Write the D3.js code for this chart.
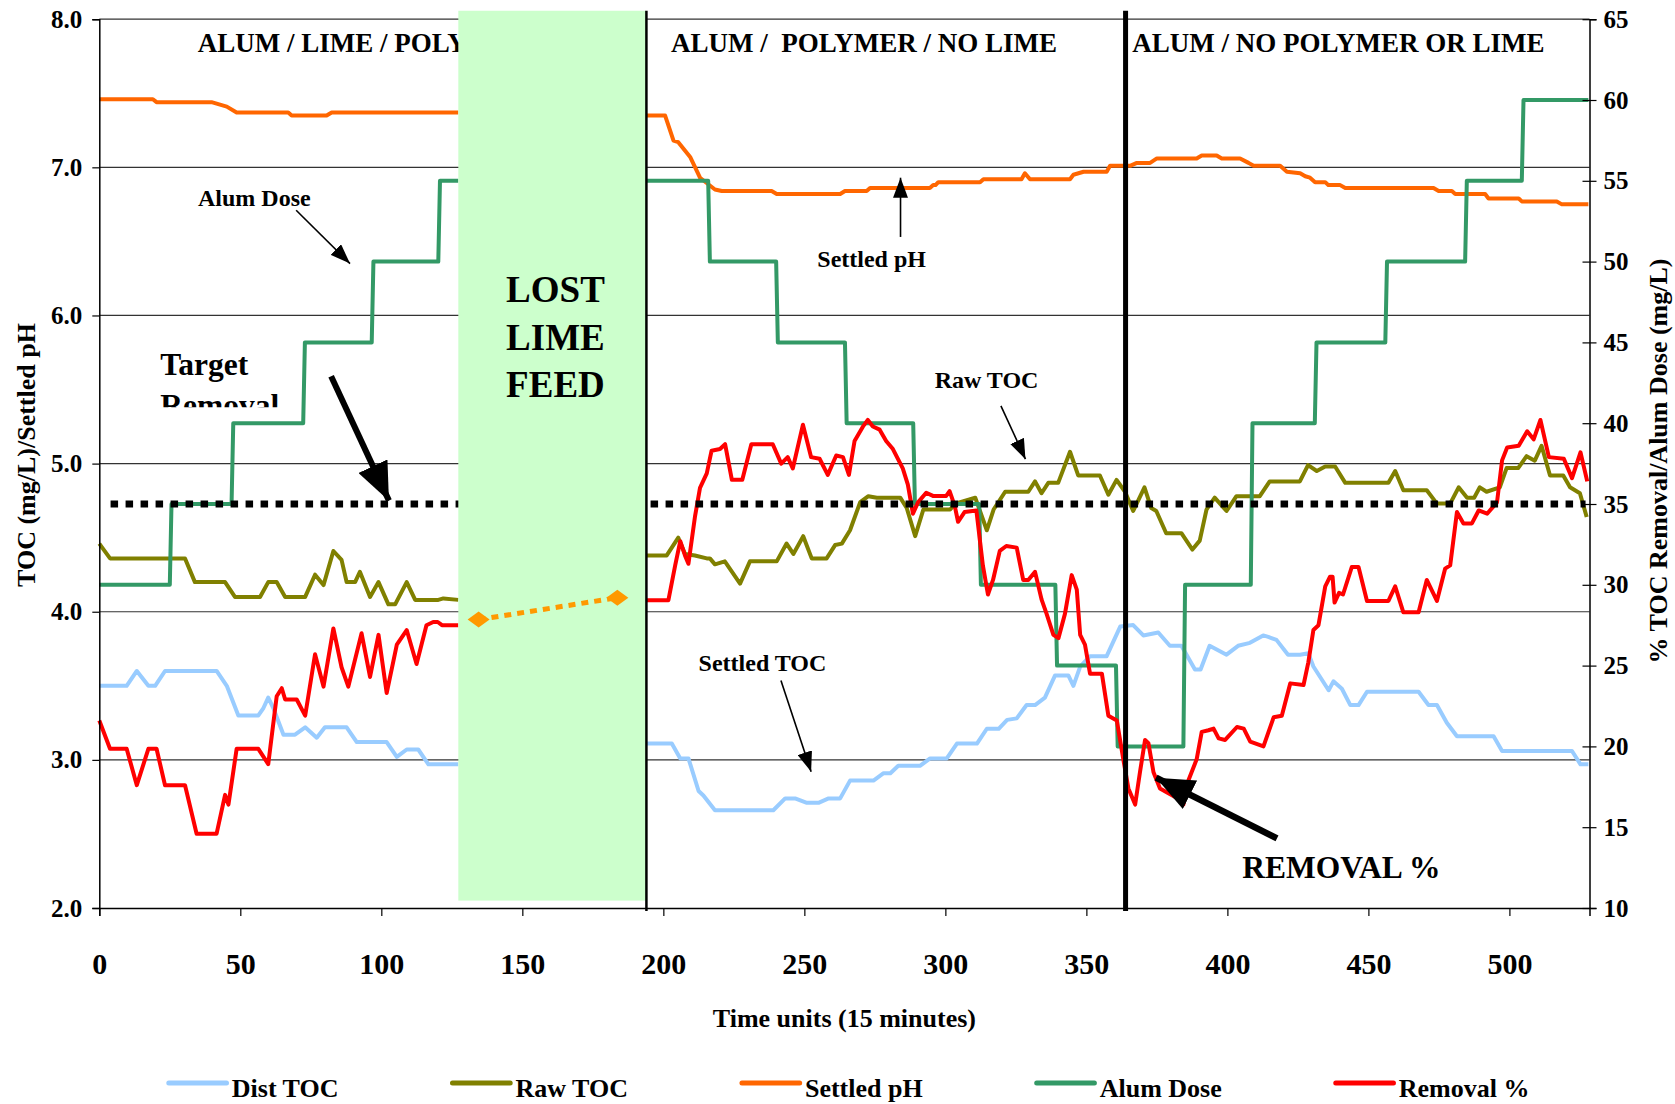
<!DOCTYPE html>
<html>
<head>
<meta charset="utf-8">
<script src="https://cdn.jsdelivr.net/npm/d3@7/dist/d3.min.js"></script>
<style>
  body { margin: 0; background: #fff; }
  svg text { font-family: "Liberation Serif", "Times New Roman", serif; font-weight: bold; fill: #000; }
</style>
</head>
<body>
<div id="chart"></div>
<script>
  // time units (15 min) vs value; null marks the lost-lime-feed gap
  const distTOC = [[0,3.50],[9.7,3.50],[13.3,3.60],[17.4,3.50],[19.8,3.50],[23.3,3.60],[41.6,3.60],[45.2,3.50],[49.3,3.30],[56.4,3.30],[58.2,3.35],[59.9,3.42],[61.7,3.35],[65.3,3.17],[69.4,3.17],[73,3.22],[77.1,3.15],[80,3.22],[87.7,3.22],[91.3,3.12],[101.9,3.12],[105.5,3.02],[109,3.07],[113.1,3.07],[116.7,2.97],[127.3,2.97], null,
    [194,3.11],[203,3.11],[206,3.01],[208.9,3.01],[212.5,2.79],[214.2,2.76],[218.3,2.66],[239,2.66],[243.2,2.74],[246.7,2.74],[250.9,2.71],[255,2.71],[258.6,2.74],[262.7,2.74],[266.2,2.86],[274.5,2.86],[278.1,2.91],[280.5,2.91],[283.3,2.96],[291,2.96],[294.6,3.01],[300.5,3.01],[304.1,3.11],[311.2,3.11],[314.7,3.21],[318.9,3.21],[321.9,3.27],[325.3,3.28],[328.8,3.37],[331.8,3.37],[335.3,3.42],[338.9,3.57],[343.6,3.57],[345.4,3.50],[347.8,3.63],[351.3,3.70],[357.2,3.70],[362,3.90],[366.6,3.91],[370.2,3.84],[375.5,3.86],[379.6,3.77],[383.7,3.77],[388.5,3.61],[390.5,3.61],[393.7,3.77],[399.7,3.71],[403.8,3.77],[408,3.79],[412.7,3.84],[414.5,3.83],[417.4,3.81],[421.5,3.71],[425.8,3.71],[428.7,3.72],[430.5,3.63],[435.9,3.47],[437.6,3.53],[440.6,3.48],[443.6,3.37],[446.5,3.37],[449.5,3.46],[467.8,3.46],[471.3,3.37],[474.3,3.37],[477.8,3.25],[481.4,3.16],[494.4,3.16],[497.4,3.06],[522.2,3.06],[525.2,2.97],[528,2.97]];

  const rawTOC = [[0,4.46],[3.8,4.36],[30.4,4.36],[33.9,4.20],[44.6,4.20],[48.1,4.10],[57,4.10],[59.9,4.20],[62.9,4.20],[65.9,4.10],[73,4.10],[76.5,4.25],[79.5,4.18],[83,4.41],[85.9,4.35],[87.7,4.20],[90.7,4.20],[92.4,4.27],[96,4.10],[99,4.20],[102.5,4.05],[104.9,4.05],[109,4.20],[112,4.08],[120.2,4.08],[122,4.09],[127.3,4.08], null,
    [194,4.38],[201.2,4.38],[205.3,4.50],[207.7,4.39],[211.2,4.38],[215.4,4.36],[216.5,4.36],[218.3,4.32],[221.8,4.34],[227.2,4.19],[230.7,4.34],[240.2,4.34],[243.7,4.46],[246.1,4.39],[249.6,4.51],[252.6,4.36],[257.9,4.36],[260.9,4.45],[263.3,4.46],[266.2,4.55],[269.8,4.74],[272.7,4.78],[275.7,4.77],[284,4.77],[286.3,4.70],[289.3,4.51],[292.2,4.69],[301.7,4.69],[303.5,4.73],[310.6,4.77],[314.7,4.55],[317.1,4.69],[321.2,4.81],[329.4,4.81],[331.8,4.88],[334.1,4.80],[336.5,4.87],[340,4.87],[344.2,5.08],[347.1,4.92],[354.8,4.92],[357.8,4.79],[360.7,4.89],[363.7,4.81],[366.6,4.68],[370.6,4.84],[373,4.70],[374.8,4.68],[378.3,4.53],[383.7,4.53],[387.6,4.42],[390.2,4.48],[392.6,4.69],[395.5,4.77],[399.7,4.68],[403.2,4.78],[411.5,4.78],[415,4.88],[425.7,4.88],[428.6,4.99],[431.7,4.95],[434.7,4.98],[438.2,4.98],[441.8,4.87],[457.1,4.87],[459.5,4.95],[462.4,4.82],[470.7,4.82],[474.3,4.73],[479,4.73],[482,4.84],[485,4.77],[487.5,4.77],[489.5,4.84],[491.9,4.81],[496.6,4.84],[499,4.97],[503.1,4.97],[506.1,5.05],[509,5.02],[511.4,5.12],[514.4,4.92],[519.1,4.92],[521.5,4.84],[525,4.80],[527.4,4.64]];

  const settledPH = [[0,7.46],[19,7.46],[20.3,7.44],[39.8,7.44],[41.6,7.43],[45.2,7.41],[48.7,7.37],[67,7.37],[68.2,7.35],[80.6,7.35],[82.4,7.37],[127.3,7.37], null,
    [194,7.35],[200.6,7.35],[203.6,7.18],[205.3,7.17],[209.5,7.07],[213,6.93],[218.3,6.85],[220.7,6.84],[238.4,6.84],[240.2,6.82],[262.7,6.82],[264.4,6.84],[272.1,6.84],[273.3,6.86],[294.5,6.86],[295.7,6.88],[296.5,6.88],[297.5,6.90],[312.3,6.90],[313.5,6.92],[327,6.92],[328.2,6.96],[330,6.92],[344.2,6.92],[345.4,6.95],[349,6.97],[357.2,6.97],[358.4,7.01],[365.5,7.01],[367.9,7.03],[372.6,7.03],[375,7.06],[389.1,7.06],[390.9,7.08],[396.2,7.08],[398,7.06],[404.5,7.06],[407.5,7.03],[409.3,7.01],[418.7,7.01],[421.1,6.97],[425.8,6.96],[427.6,6.94],[429.3,6.93],[431.1,6.90],[434.7,6.90],[435.8,6.88],[440,6.88],[441.8,6.86],[473.1,6.86],[474.9,6.84],[479.6,6.84],[480.8,6.82],[491.4,6.82],[492.6,6.79],[503.3,6.79],[504.4,6.77],[516.8,6.77],[518.6,6.75],[528,6.75]];

  // right axis (mg/L)
  const alumDose = [[0,30],[25,30],[25.6,35],[46.9,35],[47.5,40],[72.3,40],[72.9,45],[96.6,45],[97.2,50],[120.2,50],[120.8,55],[127.3,55], null,
    [194,55],[215.9,55],[216.5,50],[240,50],[240.6,45],[264.4,45],[265,40],[288.6,40],[289.2,35],[312,35],[312.6,30],[339,30],[339.6,25],[360.5,25],[361.1,20],[384.4,20],[385,30],[408.3,30],[408.9,40],[431,40],[431.6,45],[456,45],[456.6,50],[484.3,50],[484.9,55],[504.4,55],[505,60],[528,60]];

  // right axis (%)
  const removal = [[0,21.6],[3.8,19.85],[9.7,19.85],[13.3,17.6],[17.4,19.85],[20.3,19.85],[23.3,17.6],[30.4,17.6],[34.5,14.6],[41.6,14.6],[44.6,17.0],[45.8,16.4],[48.7,19.85],[56.4,19.85],[59.9,18.9],[62.9,23.1],[64.7,23.6],[65.9,22.9],[70,22.9],[73,21.9],[76.5,25.7],[79.5,23.7],[83,27.3],[85.9,24.9],[88.3,23.7],[93,27.0],[96,24.3],[99,26.9],[101.9,23.3],[105.5,26.3],[109,27.2],[112.5,25.1],[116,27.5],[118.4,27.7],[120,27.7],[121.5,27.5],[127.3,27.5], null,
    [194,29.05],[201.8,29.05],[204.2,31.2],[206,32.7],[207.7,31.8],[208.9,31.3],[211.2,34.2],[213,36.0],[215.4,36.9],[217.1,38.3],[220.1,38.4],[221.9,38.7],[224.3,36.5],[228,36.5],[231.2,38.7],[238.8,38.7],[241.8,37.5],[244.1,37.9],[245.9,37.2],[249.5,39.9],[252.4,37.9],[255.4,37.8],[258.3,36.8],[261.3,38.0],[263.7,37.9],[265.8,36.8],[267.8,38.9],[270.8,39.8],[272.5,40.2],[274.3,39.8],[276.7,39.6],[279,38.9],[281.4,38.4],[284.9,37.2],[286.7,36.2],[288.5,34.4],[290.3,35.1],[293.2,35.7],[295.6,35.5],[300.3,35.5],[301.5,35.8],[303.3,34.9],[304.5,33.9],[306.8,34.5],[311,34.6],[313.3,31.2],[315.1,29.4],[316.9,30.3],[319.3,32.1],[321.6,32.4],[325.3,32.3],[327.6,30.3],[329.4,30.3],[331.8,30.8],[334.1,29.1],[335.9,28.2],[338.3,26.9],[340.1,26.7],[342.4,28.2],[344.8,30.6],[346.6,29.7],[347.8,26.9],[349.5,26.3],[351.3,24.5],[355.5,24.5],[357.8,21.9],[360.8,21.6],[363.1,19.2],[364.9,17.4],[367.3,16.4],[369,18.4],[370.8,20.4],[372,20.2],[373.8,18.4],[376.1,17.4],[379.1,17.1],[382.1,16.8],[384.4,16.4],[386.2,17.9],[389.1,19.2],[390.9,20.9],[393.3,21.0],[395.1,21.1],[396.9,20.5],[399.2,20.4],[403.4,21.2],[405.8,21.1],[408.1,20.3],[412.8,20.0],[416.4,21.8],[419.3,21.9],[422.3,23.9],[427,23.8],[428.7,25.2],[430.5,27.2],[432.3,27.5],[434.7,29.9],[436.4,30.5],[437.3,30.5],[438,28.9],[439.6,29.5],[441,29.4],[444.1,31.1],[446.5,31.1],[449.5,29.0],[457.1,29.0],[459.5,29.9],[462.4,28.3],[467.8,28.3],[470.7,30.3],[474.3,29.0],[477.2,31.0],[479,31.2],[481.4,34.5],[483.7,33.8],[486.7,33.8],[489.1,34.6],[492.1,34.4],[495.6,35.1],[497.4,37.7],[499.2,38.5],[503.3,38.6],[506.3,39.5],[508.6,39.0],[511,40.2],[514,37.9],[519.3,37.8],[522.2,36.6],[525.2,38.2],[527.6,36.4]];

  const removalBridge = [[134.5,27.85],[183.7,29.2]];
  const targetRemoval = 35;
  const lostFeed = [127.3, 194];
  const phaseBreak = 363.9;

  const phaseLabels = ["ALUM / LIME / POLYMER", "ALUM /  POLYMER / NO LIME", "ALUM / NO POLYMER OR LIME"];
  const phaseStarts = [34.9, 202.7, 366.3];
  const xTicks = d3.range(0, 501, 50);
  const leftTicks = [2, 3, 4, 5, 6, 7, 8];
  const rightTicks = d3.range(10, 66, 5);

  const series = [
    { name: "Dist TOC", data: distTOC, axis: "L", color: "#99CCFF" },
    { name: "Raw TOC", data: rawTOC, axis: "L", color: "#808000" },
    { name: "Settled pH", data: settledPH, axis: "L", color: "#FF6600" },
    { name: "Alum Dose", data: alumDose, axis: "R", color: "#339966" },
    { name: "Removal %", data: removal, axis: "R", color: "#FF0000" }
  ];

  const W = 1675, H = 1104;
  const margin = { top: 19.2, right: 85.5, bottom: 196, left: 99.3 };
  const width = W - margin.left - margin.right;
  const height = H - margin.top - margin.bottom;

  const svg = d3.select("#chart").append("svg")
    .attr("width", W).attr("height", H);

  const g = svg.append("g")
    .attr("transform", "translate(" + margin.left + "," + margin.top + ")");

  const x = d3.scaleLinear().domain([0, 528.4]).range([0, width]);
  const yL = d3.scaleLinear().domain([2, 8]).range([height, 0]);
  const yR = d3.scaleLinear().domain([10, 65]).range([height, 0]);

  // gridlines
  g.selectAll(".grid").data(leftTicks.slice(1)).enter().append("line")
    .attr("x1", 0).attr("x2", width)
    .attr("y1", d => yL(d)).attr("y2", d => yL(d))
    .attr("stroke", "#333").attr("stroke-width", 1.2);

  // zone labels (under the green box)
  g.selectAll(".phase").data(phaseLabels).enter().append("text")
    .attr("x", (d, i) => x(phaseStarts[i]))
    .attr("y", yL(7.78))
    .style("font-size", "27px")
    .style("white-space", "pre")
    .text(d => d);

  // series
  series.forEach(s => {
    const y = s.axis === "L" ? yL : yR;
    const line = d3.line().defined(d => d).x(d => x(d[0])).y(d => y(d[1]));
    g.append("path").datum(s.data)
      .attr("d", line)
      .attr("fill", "none")
      .attr("stroke", s.color)
      .attr("stroke-width", 4)
      .attr("stroke-linejoin", "round");
  });

  // axes
  const xAxis = g.append("g").attr("transform", "translate(0," + height + ")")
    .call(d3.axisBottom(x).tickValues(xTicks).tickSize(8).tickPadding(37).tickFormat(d3.format("d")));
  const lAxis = g.append("g")
    .call(d3.axisLeft(yL).tickValues(leftTicks).tickSize(7).tickPadding(10).tickFormat(d3.format(".1f")));
  const rAxis = g.append("g").attr("transform", "translate(" + width + ",0)")
    .call(d3.axisRight(yR).tickValues(rightTicks).tickSize(7).tickPadding(7));
  rAxis.selectAll(".tick line").attr("x1", -7);
  [xAxis, lAxis, rAxis].forEach(a => {
    a.select(".domain").attr("stroke", "#000").attr("stroke-width", 1.5);
    a.selectAll(".tick line").attr("stroke", "#000").attr("stroke-width", 1.2);
    a.selectAll("text").style("font-size", "25px").attr("fill", "#000");
  });
  xAxis.selectAll("text").style("font-size", "30px");

  // axis titles
  svg.append("text")
    .attr("transform", "translate(35,455) rotate(-90)")
    .attr("text-anchor", "middle").style("font-size", "26px")
    .text("TOC (mg/L)/Settled pH");
  svg.append("text")
    .attr("transform", "translate(1667,461) rotate(-90)")
    .attr("text-anchor", "middle").style("font-size", "26px")
    .text("% TOC Removal/Alum Dose (mg/L)");
  svg.append("text")
    .attr("x", margin.left + width / 2).attr("y", 1027)
    .attr("text-anchor", "middle").style("font-size", "26px")
    .text("Time units (15 minutes)");

  // target removal dotted line
  g.append("line")
    .attr("x1", x(4)).attr("x2", x(527))
    .attr("y1", yR(targetRemoval)).attr("y2", yR(targetRemoval))
    .attr("stroke", "#000").attr("stroke-width", 7)
    .attr("stroke-dasharray", "7.5,7.5");

  // lost lime feed box
  g.append("rect")
    .attr("x", x(lostFeed[0])).attr("width", x(lostFeed[1]) - x(lostFeed[0]))
    .attr("y", yL(8.057)).attr("height", yL(2.05) - yL(8.057))
    .attr("fill", "#CCFFCC");
  ["LOST", "LIME", "FEED"].forEach((w, i) => {
    g.append("text")
      .attr("x", x((lostFeed[0] + lostFeed[1]) / 2 + 1.1)).attr("y", yL([6.09, 5.77, 5.45][i]))
      .attr("text-anchor", "middle").style("font-size", "37px")
      .text(w);
  });

  // removal % bridge across the gap
  g.append("path").datum(removalBridge)
    .attr("d", d3.line().x(d => x(d[0])).y(d => yR(d[1])))
    .attr("fill", "none").attr("stroke", "#FF9900")
    .attr("stroke-width", 5).attr("stroke-dasharray", "7,6");
  g.selectAll(".dia").data(removalBridge).enter().append("path")
    .attr("transform", d => "translate(" + x(d[0]) + "," + yR(d[1]) + ")")
    .attr("d", "M-11,0L0,-8L11,0L0,8Z")
    .attr("fill", "#FF9900");

  // phase separators
  g.append("line")
    .attr("x1", x(lostFeed[1])).attr("x2", x(lostFeed[1]))
    .attr("y1", yL(8.057)).attr("y2", height + 3)
    .attr("stroke", "#000").attr("stroke-width", 2.5);
  g.append("line")
    .attr("x1", x(phaseBreak)).attr("x2", x(phaseBreak))
    .attr("y1", yL(8.057)).attr("y2", height + 3)
    .attr("stroke", "#000").attr("stroke-width", 5);

  // arrow markers
  const defs = svg.append("defs");
  const marker = (id, len, wid) => defs.append("marker")
    .attr("id", id).attr("markerUnits", "userSpaceOnUse")
    .attr("markerWidth", len).attr("markerHeight", wid)
    .attr("refX", len).attr("refY", wid / 2).attr("orient", "auto")
    .append("path").attr("d", "M0,0L" + len + "," + (wid / 2) + "L0," + wid + "Z").attr("fill", "#000");
  marker("thin", 20, 15);
  marker("thick", 38, 32);

  const arrows = [
    { from: [69.8, 6.71], to: [88.9, 6.35], w: 1.6, m: "thin" },
    { from: [284.1, 6.53], to: [284.1, 6.93], w: 1.6, m: "thin" },
    { from: [319.7, 5.39], to: [328.4, 5.03], w: 1.6, m: "thin" },
    { from: [241.7, 3.535], to: [252.4, 2.92], w: 1.6, m: "thin" },
    { from: [82.2, 5.59], to: [102.7, 4.75], w: 6, m: "thick" },
    { from: [417.6, 2.47], to: [374.7, 2.88], w: 6.5, m: "thick" }
  ];
  arrows.forEach(a => {
    g.append("line")
      .attr("x1", x(a.from[0])).attr("y1", yL(a.from[1]))
      .attr("x2", x(a.to[0])).attr("y2", yL(a.to[1]))
      .attr("stroke", "#000").attr("stroke-width", a.w)
      .attr("marker-end", "url(#" + a.m + ")");
  });

  const notes = [
    { text: "Alum Dose", t: 35, v: 6.74, size: 24 },
    { text: "Settled pH", t: 254.6, v: 6.33, size: 24 },
    { text: "Raw TOC", t: 296.2, v: 5.51, size: 24 },
    { text: "Settled TOC", t: 212.5, v: 3.60, size: 24 },
    { text: "REMOVAL %", t: 405.3, v: 2.20, size: 31.5 }
  ];
  notes.forEach(n => {
    g.append("text").attr("x", x(n.t)).attr("y", yL(n.v))
      .style("font-size", n.size + "px").text(n.text);
  });

  // "Target Removal" text box, cut off at its bottom edge
  defs.append("clipPath").attr("id", "tclip")
    .append("rect").attr("x", x(15)).attr("y", yL(5.9))
    .attr("width", 200).attr("height", yL(5.38) - yL(5.9));
  const tg = g.append("g").attr("clip-path", "url(#tclip)");
  tg.append("text").attr("x", x(21.6)).attr("y", yL(5.60))
    .style("font-size", "31.5px").text("Target");
  tg.append("text").attr("x", x(21.6)).attr("y", yL(5.32))
    .style("font-size", "31.5px").text("Removal");

  // legend
  let lx = 168.8;
  series.forEach(s => {
    svg.append("line")
      .attr("x1", lx).attr("x2", lx + 57.7)
      .attr("y1", 1083).attr("y2", 1083)
      .attr("stroke", s.color).attr("stroke-width", 5).attr("stroke-linecap", "round");
    const t = svg.append("text").attr("x", lx + 63).attr("y", 1097)
      .style("font-size", "26px").text(s.name);
    lx = lx + 63 + t.node().getComputedTextLength() + 114;
  });
</script>
</body>
</html>
